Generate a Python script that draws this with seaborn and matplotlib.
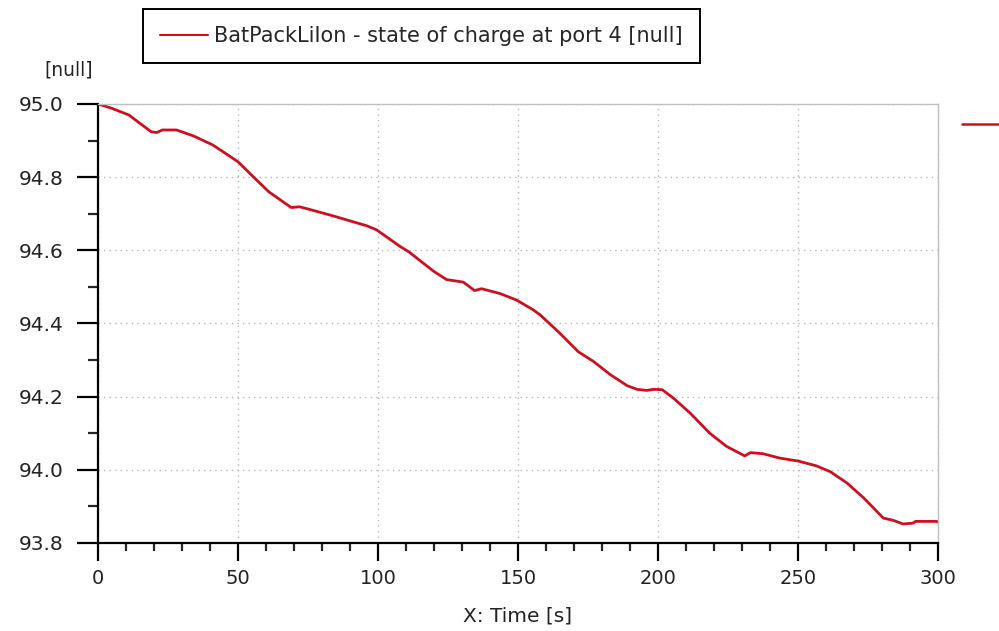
import numpy as np
import pandas as pd
import matplotlib.pyplot as plt
import seaborn as sns
from matplotlib.lines import Line2D
from matplotlib.ticker import MultipleLocator

# values
time_s = [0, 5, 11, 19, 21, 23, 28, 34, 41, 46.5, 50, 56, 61, 69, 72, 75, 84, 96,
          99.5, 108, 111, 120, 124.5, 130.5, 134.5, 137, 143.5, 149.5, 155.5, 158,
          165, 171.5, 177, 183, 189, 192.5, 196, 198.5, 201.5, 205.5, 211.5, 218.5,
          224.5, 229.5, 231, 233, 237.5, 243.5, 250, 256.5, 261.5, 267.5, 273.5,
          280.5, 284, 287.5, 291, 292, 299.5, 300]
soc = [95.000, 94.988, 94.970, 94.924, 94.922, 94.929, 94.929, 94.913, 94.888, 94.860,
       94.842, 94.797, 94.760, 94.717, 94.719, 94.713, 94.694, 94.667,
       94.656, 94.610, 94.596, 94.542, 94.520, 94.513, 94.490, 94.495, 94.482, 94.464,
       94.437, 94.423, 94.373, 94.323, 94.296, 94.260, 94.230, 94.220, 94.217, 94.220,
       94.219, 94.196, 94.155, 94.100, 94.064, 94.044, 94.038, 94.047, 94.044, 94.032,
       94.024, 94.011, 93.995, 93.964, 93.923, 93.868, 93.862, 93.852, 93.854, 93.859,
       93.859, 93.857]
series_label = "BatPackLiIon - state of charge at port 4 [null]"

red = "#cc1020"
df = pd.DataFrame({"t": time_s, "soc": soc})

sns.set_style("white")
plt.rcParams['font.family'] = ['DejaVu Sans']

fig = plt.figure(figsize=(9.99, 6.31), dpi=100)
ax = fig.add_axes([0.0981, 0.1395, 0.8408, 0.6957])

sns.lineplot(data=df, x="t", y="soc", color=red, linewidth=2.0, ax=ax)

ax.set_xlim(0, 300)
ax.set_ylim(93.8, 95.0)
ax.xaxis.set_major_locator(MultipleLocator(50))
ax.xaxis.set_minor_locator(MultipleLocator(10))
ax.yaxis.set_major_locator(MultipleLocator(0.2))
ax.yaxis.set_minor_locator(MultipleLocator(0.1))
ax.yaxis.set_major_formatter(plt.FormatStrFormatter('%.1f'))

ax.grid(True, which='major', linestyle=(0, (1, 3)), color='#b8b8b8', linewidth=1)

for s in ['left', 'bottom']:
    ax.spines[s].set_color('black')
    ax.spines[s].set_linewidth(1.6)
for s in ['top', 'right']:
    ax.spines[s].set_color('#c0c0c0')
    ax.spines[s].set_linewidth(1.0)

ax.tick_params(axis='y', which='major', direction='out', length=15, width=1.6,
               labelsize=14.5, pad=10, colors='black', left=True)
ax.tick_params(axis='y', which='minor', direction='out', length=7, width=1.6, left=True)
ax.tick_params(axis='x', which='major', direction='out', length=13, width=1.6,
               labelsize=14, pad=6, colors='black', bottom=True)
ax.tick_params(axis='x', which='minor', direction='out', length=6, width=1.6, bottom=True)
for lab in ax.get_xticklabels() + ax.get_yticklabels():
    lab.set_color('#222222')

ax.set_xlabel("X: Time [s]", fontsize=14.5, color='#222222', labelpad=13)
ax.set_ylabel("")
ax.text(-0.006, 1.055, "[null]", transform=ax.transAxes, ha='right', va='bottom',
        fontsize=13.5, color='#222222')

# legend box at the top
fig.legend(handles=[Line2D([], [], color=red, linewidth=1.5)], labels=[series_label],
           loc='upper left', bbox_to_anchor=(143 / 999, 1 - 9 / 631), fontsize=15,
           frameon=True, fancybox=False, edgecolor='black', framealpha=1,
           borderpad=0.82, handlelength=2.3, handletextpad=0.3, borderaxespad=0)
fig.legends[-1].get_frame().set_linewidth(1.4)

# clipped legend handle at the right edge
fig.legend(handles=[Line2D([], [], color=red, linewidth=1.8)], labels=[''],
           loc='upper left', bbox_to_anchor=(962 / 999, 1 - 116 / 631), frameon=False,
           borderpad=0, handlelength=3.0, handletextpad=0, borderaxespad=0, fontsize=12.5)

fig.savefig("out.png", dpi=100)
